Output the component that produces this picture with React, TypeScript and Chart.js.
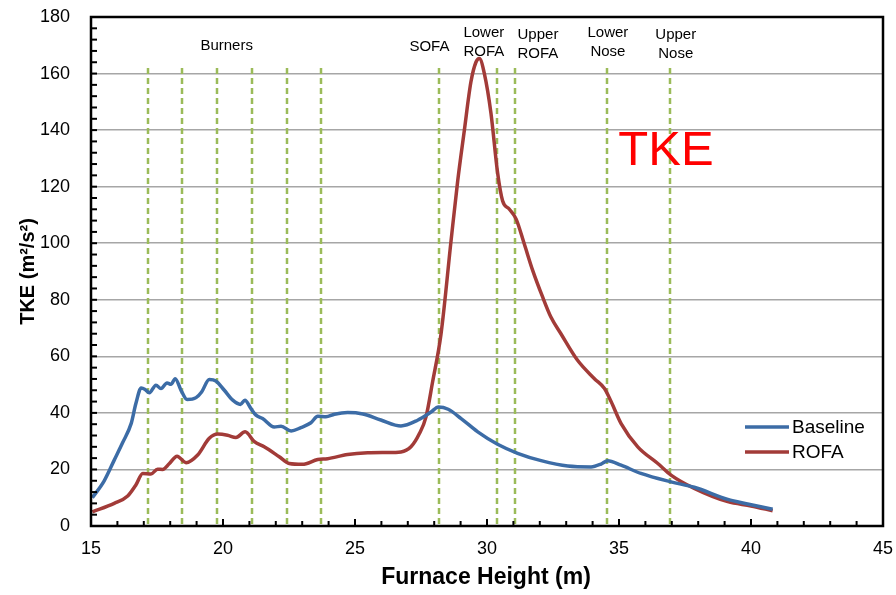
import React, { useEffect, useRef } from "react";
import { Chart, registerables } from "chart.js";

Chart.register(...registerables);

// ---- data ----
const baselineX = [15.05, 15.5, 15.88, 16.2, 16.52, 16.7, 16.9, 17.05, 17.21, 17.46, 17.65, 17.88, 18.03, 18.19, 18.41, 18.64, 18.98, 19.19, 19.48, 19.73, 20.05, 20.37, 20.66, 20.83, 21.06, 21.25, 21.5, 21.94, 22.2, 22.58, 22.95, 23.33, 23.59, 23.9, 24.22, 24.72, 25.3, 25.98, 26.74, 27.37, 27.88, 28.16, 28.53, 29.02, 29.65, 30.4, 31.16, 32.05, 33.06, 33.94, 34.32, 34.57, 35.08, 35.83, 36.97, 37.85, 39.12, 39.87, 40.82];
const baselineY = [10, 16, 23.3, 29.5, 36.2, 43.3, 48.8, 48.3, 47.1, 49.8, 48.6, 50.6, 50.1, 52.1, 48, 44.7, 45.4, 47.4, 51.8, 51.3, 48, 44.5, 43, 44.5, 41.5, 39.2, 38, 35, 35.3, 33.6, 34.8, 36.5, 38.8, 38.6, 39.5, 40.1, 39.6, 37.5, 35.4, 37.4, 40.3, 42.1, 41.3, 38, 33.3, 28.9, 25.7, 23.1, 21.2, 20.9, 21.9, 23.1, 21.5, 18.6, 15.6, 13.7, 9.4, 7.8, 5.9];

const rofaX = [15.05, 15.88, 16.39, 16.7, 16.96, 17.27, 17.52, 17.71, 17.97, 18.26, 18.6, 19.04, 19.48, 19.8, 20.17, 20.49, 20.84, 21.19, 21.56, 22.13, 22.51, 23.01, 23.59, 23.96, 24.72, 25.48, 26.2, 26.74, 27.12, 27.44, 27.69, 27.94, 28.26, 28.64, 28.89, 29.14, 29.39, 29.58, 29.71, 29.9, 30.15, 30.4, 30.59, 30.84, 31.1, 31.41, 31.73, 32.11, 32.42, 32.8, 33.43, 34.07, 34.45, 34.7, 35.08, 35.71, 36.47, 36.97, 37.85, 39.12, 40.0, 40.82];
const rofaY = [5, 8, 10.6, 14.5, 18.6, 18.4, 20.1, 20, 22.1, 24.7, 22.4, 25.1, 31, 32.5, 32.1, 31.3, 33.3, 29.8, 28, 24.5, 22.1, 21.8, 23.5, 23.8, 25.3, 25.9, 26, 26.2, 28, 32.7, 38.6, 51, 68, 101, 122, 139.8, 157, 164, 165.3, 160, 146, 125, 115, 112.1, 108.6, 99.8, 90.4, 80.9, 73.9, 68, 58.6, 52.1, 48.6, 44, 36.2, 28, 22.1, 18, 13.3, 8.6, 7.1, 5.4];

// vertical dashed marker positions (m)
const markerX = [17.16, 18.45, 19.77, 21.1, 22.42, 23.71, 28.18, 30.38, 31.06, 34.55, 36.93];
const markerTop = 162;

// annotation labels: text, x (m), y (TKE value)
const labelText = ["Burners", "SOFA", "Lower", "ROFA", "Upper", "ROFA", "Lower", "Nose", "Upper", "Nose"];
const labelX = [20.14, 27.82, 29.88, 29.88, 31.93, 31.93, 34.58, 34.58, 37.15, 37.15];
const labelY = [169.8, 169.5, 174.4, 167.7, 173.6, 167.1, 174.4, 167.7, 173.6, 167.1];

const bigLabel = "TKE";
const bigLabelX = 36.78;
const bigLabelY = 132.5;

const seriesNames = ["Baseline", "ROFA"];
const seriesColors = ["#3C6CA6", "#A23B38"];

const xTitle = "Furnace Height (m)";
const yTitle = "TKE (m²/s²)";

const FONT = "'Liberation Sans', Arial, sans-serif";
const GREEN = "#9BBB59";

const overlayPlugin = {
  id: "overlay",
  beforeDatasetsDraw(chart: any) {
    const { ctx, chartArea, scales } = chart;
    const x = scales.x, y = scales.y;
    ctx.save();
    ctx.strokeStyle = GREEN;
    ctx.lineWidth = 2.5;
    ctx.setLineDash([6, 4]);
    markerX.forEach((v) => {
      const px = Math.round(x.getPixelForValue(v));
      ctx.beginPath();
      ctx.moveTo(px, y.getPixelForValue(markerTop));
      ctx.lineTo(px, chartArea.bottom);
      ctx.stroke();
    });
    ctx.restore();
  },
  afterDatasetsDraw(chart: any) {
    const { ctx, chartArea, scales } = chart;
    const x = scales.x, y = scales.y;
    const { left, right, top, bottom } = chartArea;
    ctx.save();
    // frame
    ctx.strokeStyle = "#000";
    ctx.lineWidth = 2.5;
    ctx.strokeRect(left, top, right - left, bottom - top);
    // minor/major ticks (inside)
    ctx.lineWidth = 2;
    for (let v = 0; v <= 180; v += 4) {
      const py = y.getPixelForValue(v);
      ctx.beginPath();
      ctx.moveTo(left, py);
      ctx.lineTo(left + 6, py);
      ctx.stroke();
    }
    for (let v = 15; v <= 45; v += 1) {
      const px = x.getPixelForValue(v);
      const len = v % 5 === 0 ? 7 : 5;
      ctx.beginPath();
      ctx.moveTo(px, bottom);
      ctx.lineTo(px, bottom - len);
      ctx.stroke();
    }
    // annotation labels
    ctx.fillStyle = "#000";
    ctx.font = `15px ${FONT}`;
    ctx.textAlign = "center";
    ctx.textBaseline = "middle";
    labelText.forEach((t, i) => {
      ctx.fillText(t, x.getPixelForValue(labelX[i]), y.getPixelForValue(labelY[i]));
    });
    ctx.fillStyle = "#FF0000";
    ctx.font = `49px ${FONT}`;
    ctx.fillText(bigLabel, x.getPixelForValue(bigLabelX), y.getPixelForValue(bigLabelY));
    // legend
    ctx.font = `19px ${FONT}`;
    ctx.textAlign = "left";
    seriesNames.forEach((n, i) => {
      const ly = 427 + i * 25;
      ctx.strokeStyle = seriesColors[i];
      ctx.lineWidth = 3.5;
      ctx.beginPath();
      ctx.moveTo(745, ly);
      ctx.lineTo(789, ly);
      ctx.stroke();
      ctx.fillStyle = "#000";
      ctx.fillText(n, 792, ly + 1);
    });
    // axis titles
    ctx.fillStyle = "#000";
    ctx.font = `bold 23px ${FONT}`;
    ctx.textAlign = "center";
    ctx.fillText(xTitle, (left + right) / 2 - 1, 578);
    ctx.save();
    ctx.translate(28, (top + bottom) / 2);
    ctx.rotate(-Math.PI / 2);
    ctx.font = `bold 20px ${FONT}`;
    ctx.fillText(yTitle, 0, 0);
    ctx.restore();
    ctx.restore();
  },
};

export default function App() {
  const ref = useRef<HTMLCanvasElement | null>(null);
  useEffect(() => {
    if (!ref.current) return;
    const toPts = (xs: number[], ys: number[]) => xs.map((v, i) => ({ x: v, y: ys[i] }));
    const chart = new Chart(ref.current, {
      type: "line",
      data: {
        datasets: [
          {
            label: seriesNames[0],
            data: toPts(baselineX, baselineY),
            borderColor: seriesColors[0],
            borderWidth: 3.5,
            pointRadius: 0,
            cubicInterpolationMode: "monotone",
            fill: false,
          },
          {
            label: seriesNames[1],
            data: toPts(rofaX, rofaY),
            borderColor: seriesColors[1],
            borderWidth: 3.5,
            pointRadius: 0,
            cubicInterpolationMode: "monotone",
            fill: false,
          },
        ],
      },
      options: {
        responsive: false,
        animation: false,
        devicePixelRatio: 1,
        layout: { padding: { top: 17, right: 13, left: 0, bottom: 0 } },
        plugins: { legend: { display: false }, tooltip: { enabled: false }, title: { display: false } },
        scales: {
          x: {
            type: "linear",
            min: 15,
            max: 45,
            afterFit: (a: any) => { a.height = 69; a.paddingLeft = 0; a.paddingRight = 0; },
            ticks: { stepSize: 5, color: "#000", font: { family: FONT, size: 18 }, padding: 12, maxRotation: 0 },
            grid: { display: false, drawTicks: false },
            border: { display: false },
          },
          y: {
            type: "linear",
            min: 0,
            max: 180,
            afterFit: (a: any) => { a.width = 91; a.paddingTop = 0; a.paddingBottom = 0; },
            ticks: { stepSize: 20, color: "#000", font: { family: FONT, size: 18 }, padding: 21 },
            grid: { color: "#A6A6A6", lineWidth: 1.5, drawTicks: false },
            border: { display: false },
          },
        },
      },
      plugins: [overlayPlugin],
    });
    return () => chart.destroy();
  }, []);
  return (
    <div style={{ position: "fixed", left: 0, top: 0, width: 896, height: 595, background: "#fff" }}>
      <canvas ref={ref} width={896} height={595} />
    </div>
  );
}
